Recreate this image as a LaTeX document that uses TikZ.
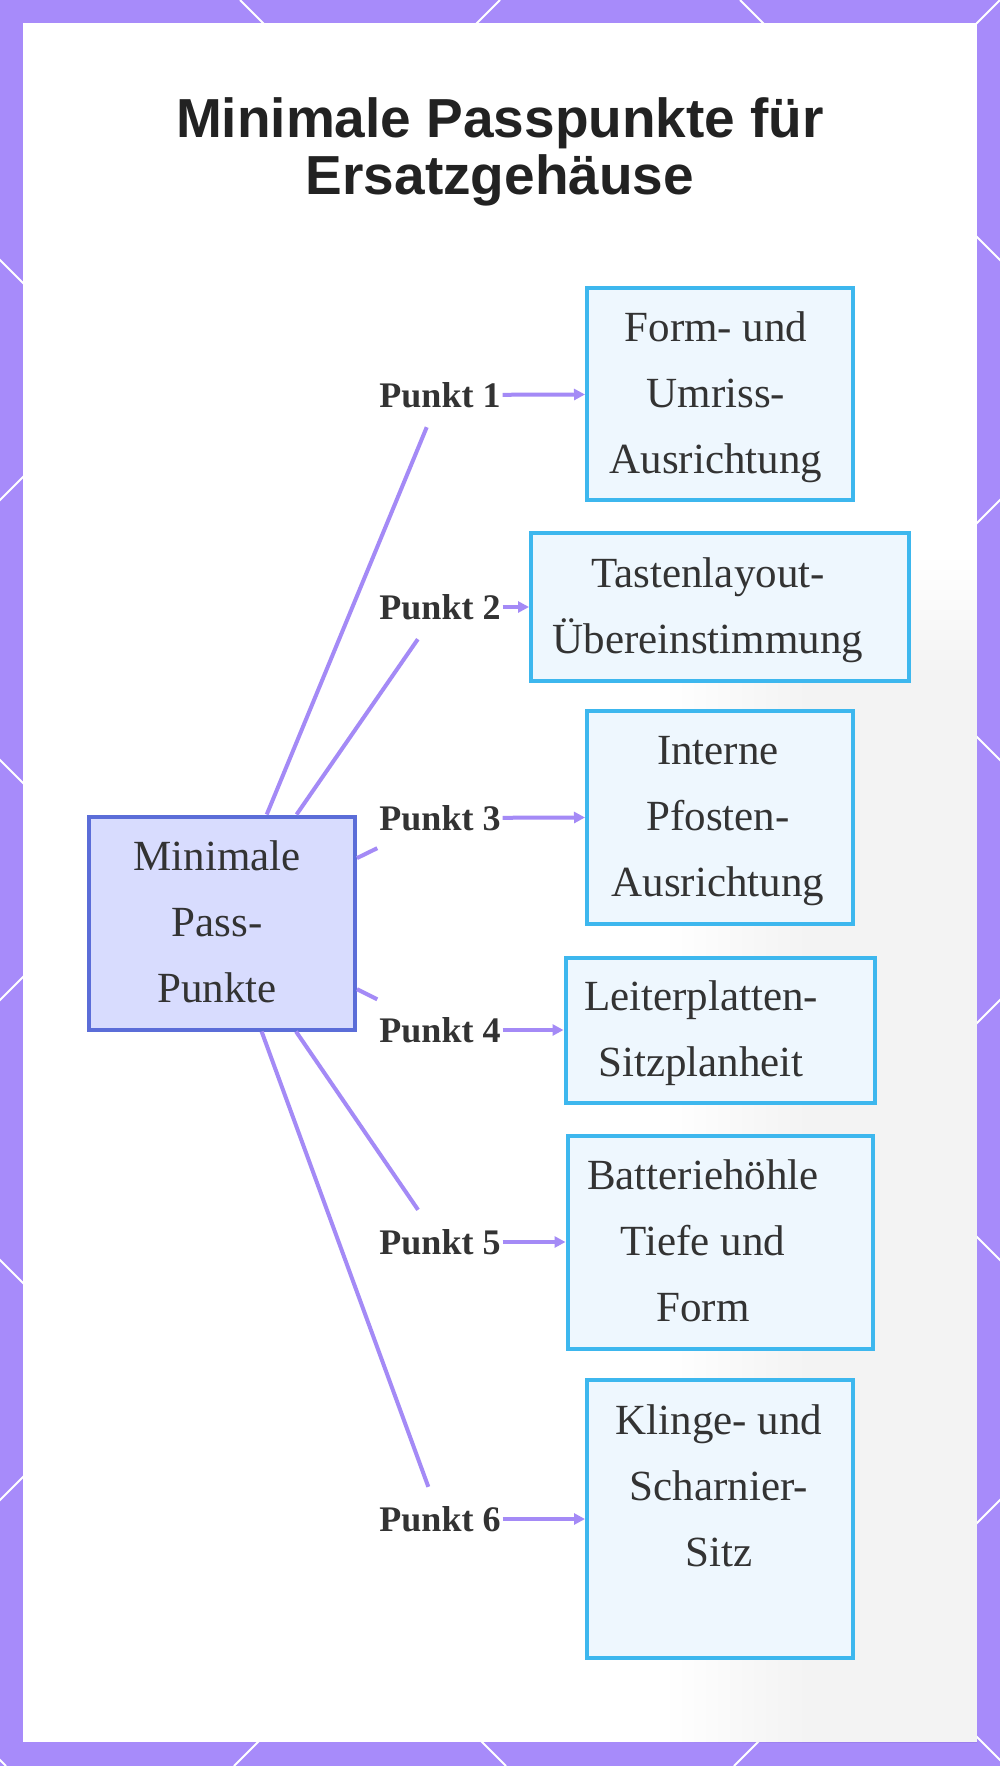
\documentclass[tikz,border=0pt]{standalone}
\usepackage{fontspec}
\setmainfont{Liberation Serif}
\newfontfamily\titlefont{Liberation Sans}
\usetikzlibrary{arrows.meta}
\definecolor{framepurple}{HTML}{A78BFA}
\definecolor{edgepurple}{HTML}{A48AF6}
\definecolor{mainfill}{HTML}{D8DCFE}
\definecolor{maindraw}{HTML}{5B6DD8}
\definecolor{boxfill}{HTML}{EEF7FE}
\definecolor{boxdraw}{HTML}{3DB7EE}
\definecolor{txt}{HTML}{333333}
\definecolor{titletxt}{HTML}{222222}
\begin{document}
\begin{tikzpicture}[x=1pt,y=-1pt,
  boxtext/.style={text=txt, font=\fontsize{43}{66}\selectfont, align=center, inner sep=0pt},
  outbox/.style={draw=boxdraw, fill=boxfill, line width=4pt, inner sep=0pt},
  mainbox/.style={draw=maindraw, fill=mainfill, line width=4pt, inner sep=0pt},
  lbl/.style={fill=white, text=txt, font=\bfseries\fontsize{36}{40}\selectfont, minimum width=125pt, minimum height=64pt, inner sep=0pt},
  conn/.style={draw=edgepurple, line width=4pt},
  conarrow/.style={conn, -{Triangle[length=11pt,width=11pt]}},
]
\useasboundingbox (0,0) rectangle (1000,1766);
% frame
\fill[framepurple] (0,0) rectangle (1000,1766);
\begin{scope}
  \clip (0,0) rectangle (1000,1766);
  \foreach \c in {-1760,-1260,-760,-260,240,740}
    \draw[white, line width=2pt] (\c,0) -- ++(1766,1766);
  \foreach \c in {500,1000,1500,2000,2500}
    \draw[white, line width=2pt] (\c,0) -- ++(-1766,1766);
\end{scope}
\fill[white] (23,23) rectangle (977,1742);
% faint soft background tint
\begin{scope}
  \clip (23,23) rectangle (977,1742);
  \foreach \k in {0,...,11}
    \fill[black, opacity=0.0055] (670+\k*12,560+\k*10) rectangle (990,1760);
\end{scope}

% title
\node[font=\titlefont\bfseries\fontsize{55}{57}\selectfont, text=titletxt, align=center, inner sep=0pt] (title) at (500,152) {Minimale Passpunkte für\\Ersatzgehäuse};

% central node
\node[mainbox, minimum width=266pt, minimum height=213pt] (c) at (222,923) {};
\node[boxtext] (ct) at (217,923) {\strut Minimale\\\strut Pass-\\\strut Punkte};

% target boxes
\node[outbox, minimum width=266pt, minimum height=212pt] (b1) at (720,394) {};
\node[outbox, minimum width=378pt, minimum height=148pt] (b2) at (720,607) {};
\node[outbox, minimum width=266pt, minimum height=213pt] (b3) at (720,817) {};
\node[outbox, minimum width=309pt, minimum height=145pt] (b4) at (720,1030) {};
\node[outbox, minimum width=305pt, minimum height=213pt] (b5) at (720,1242) {};
\node[outbox, minimum width=266pt, minimum height=278pt] (b6) at (720,1519) {};

\node[boxtext] (t1) at (716,394) {\strut Form- und\\\strut Umriss-\\\strut Ausrichtung};
\node[boxtext] (t2) at (708,607) {\strut Tastenlayout-\\\strut Übereinstimmung};
\node[boxtext] (t3) at (718,817) {\strut Interne\\\strut Pfosten-\\\strut Ausrichtung};
\node[boxtext] (t4) at (701,1030) {\strut Leiterplatten-\\\strut Sitzplanheit};
\node[boxtext] (t5) at (703,1242) {\strut Batteriehöhle\\\strut Tiefe und\\\strut Form};
\node[boxtext] (t6) at (719,1487) {\strut Klinge- und\\\strut Scharnier-\\\strut Sitz};

% labels
\node[lbl] (p1) at (440,395) {Punkt 1};
\node[lbl] (p2) at (440,607) {Punkt 2};
\node[lbl] (p3) at (440,818) {Punkt 3};
\node[lbl] (p4) at (440,1030) {Punkt 4};
\node[lbl] (p5) at (440,1242) {Punkt 5};
\node[lbl] (p6) at (440,1519) {Punkt 6};

% connectors
\foreach \i in {1,...,6} {
  \draw[conn] (c) -- (p\i);
  \draw[conarrow] (p\i) -- (b\i);
}
\end{tikzpicture}
\end{document}
